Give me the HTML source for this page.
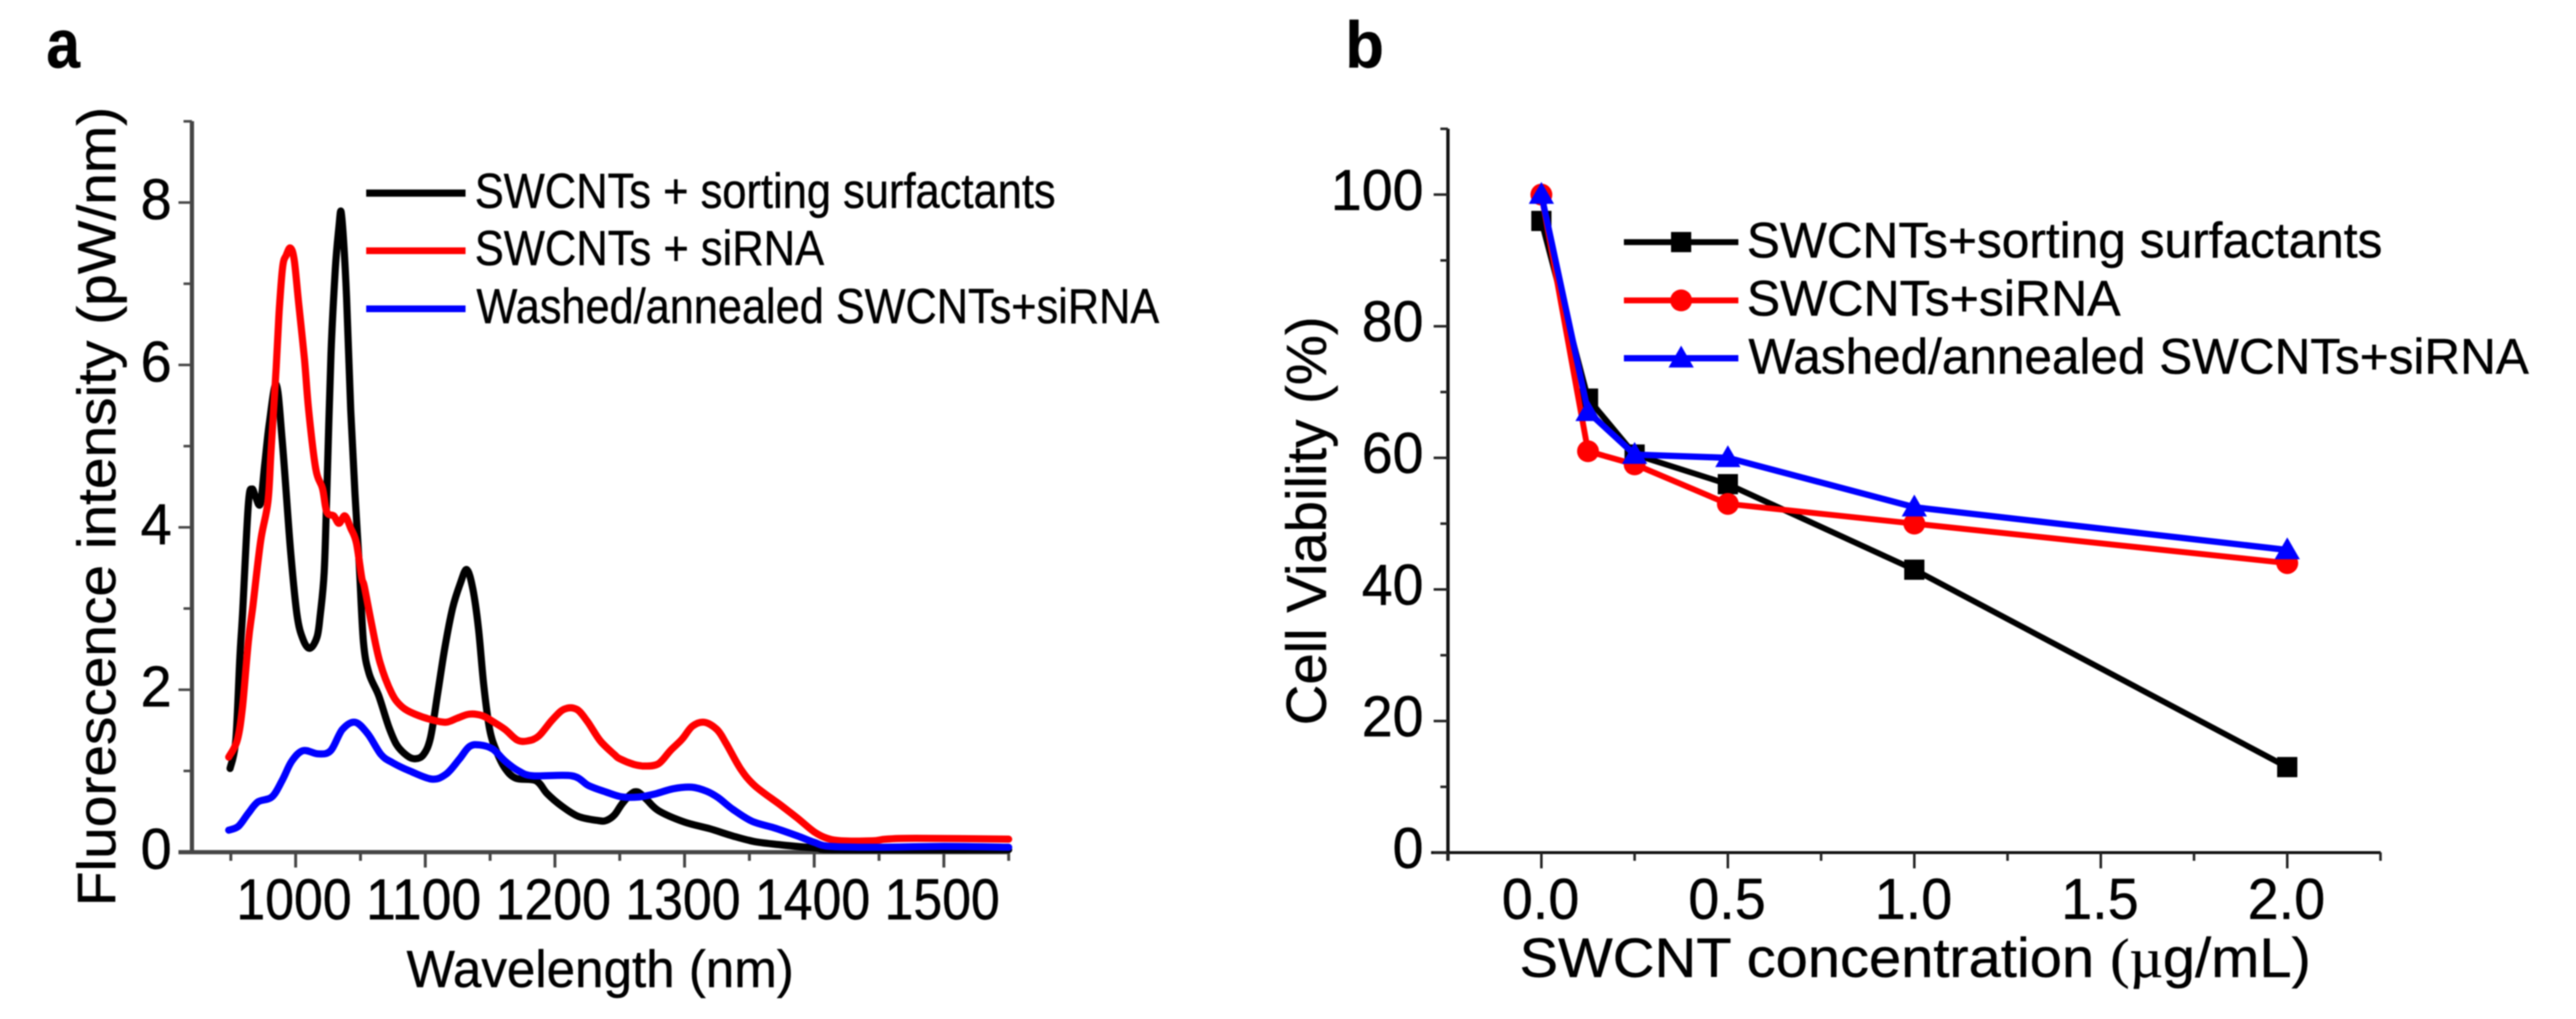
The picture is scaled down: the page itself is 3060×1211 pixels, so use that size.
<!DOCTYPE html>
<html>
<head>
<meta charset="utf-8">
<title>SWCNT fluorescence and cell viability</title>
<style>
html,body{margin:0;padding:0;background:#fff;}
svg{display:block;filter:blur(0.7px);}
text{font-family:"Liberation Sans",sans-serif;fill:#000;stroke:#000;stroke-width:0.5px;}
</style>
</head>
<body>
<svg id="fig" xmlns="http://www.w3.org/2000/svg" width="3060" height="1211" viewBox="0 0 3060 1211">
<rect width="3060" height="1211" fill="#fff"/>
<text x="55" y="80" font-size="82" font-weight="bold" textLength="40" lengthAdjust="spacingAndGlyphs">a</text>
<text x="1598" y="80" font-size="78" font-weight="bold" textLength="46" lengthAdjust="spacingAndGlyphs">b</text>

<g id="panelA"></g>
<text transform="translate(137,1077) rotate(-90)" font-size="64" textLength="950" lengthAdjust="spacingAndGlyphs">Fluorescence intensity (pW/nm)</text>
<text x="483" y="1173" font-size="62" textLength="460" lengthAdjust="spacingAndGlyphs">Wavelength (nm)</text>
<text x="564" y="247" font-size="58" textLength="690" lengthAdjust="spacingAndGlyphs">SWCNTs + sorting surfactants</text>
<text x="564" y="315" font-size="58" textLength="415" lengthAdjust="spacingAndGlyphs">SWCNTs + siRNA</text>
<text x="566" y="384" font-size="58" textLength="811" lengthAdjust="spacingAndGlyphs">Washed/annealed SWCNTs+siRNA</text>

<g id="panelB"></g>
<text transform="translate(1575,862) rotate(-90)" font-size="67" textLength="486" lengthAdjust="spacingAndGlyphs">Cell Viability (%)</text>
<text x="1805" y="1161" font-size="66" textLength="940" lengthAdjust="spacingAndGlyphs">SWCNT concentration <tspan font-family="Liberation Serif" font-weight="normal">(µ</tspan>g/mL)</text>
<text x="2075" y="306" font-size="59" textLength="755" lengthAdjust="spacingAndGlyphs">SWCNTs+sorting surfactants</text>
<text x="2075" y="375" font-size="59" textLength="444" lengthAdjust="spacingAndGlyphs">SWCNTs+siRNA</text>
<text x="2077" y="444" font-size="59" textLength="927" lengthAdjust="spacingAndGlyphs">Washed/annealed SWCNTs+siRNA</text>
</svg>
<script>
/* Panel a data */
const aTickLabelsX = [1000,1100,1200,1300,1400,1500];
const aMinorTicksX = [950,1050,1150,1250,1350,1450,1550];
const aTickLabelsY = [0,2,4,6,8];
const aMinorTicksY = [1,3,5,7,9];
const blackWave = [949.4,953.8,957,959,963.5,966.3,969,972.8,976,979.7,985,989.5,996,1001,1005.7,1011,1016.5,1019,1022,1024,1027.3,1030.6,1033.4,1035,1037,1039.3,1042.5,1045.8,1049,1052.3,1056.6,1064,1071.7,1078,1085.8,1092,1098.6,1104,1109.6,1115,1121,1127,1132,1136.7,1141,1145,1149.7,1155,1161.6,1170,1185.4,1194,1205,1218,1233,1239.5,1246,1252,1259,1264,1270.6,1280,1300,1319,1337,1354,1374,1402,1420,1550];
const blackVal = [1.03,1.38,2.41,2.93,4.28,4.47,4.38,4.29,4.75,5.28,5.76,5.1,3.73,2.93,2.62,2.51,2.65,2.93,3.45,4.41,6.14,7.18,7.7,7.89,7.52,6.83,5.45,4.41,3.55,2.59,2.2,1.93,1.55,1.32,1.19,1.15,1.2,1.41,1.96,2.51,3.0,3.31,3.48,3.24,2.76,2.07,1.51,1.24,1.03,0.91,0.88,0.72,0.57,0.44,0.39,0.39,0.46,0.6,0.72,0.74,0.65,0.51,0.37,0.29,0.2,0.13,0.09,0.05,0.03,0.03];
const redWave = [948.4,955,959,963.5,967,973,978.6,981,985,987.3,990,992.7,996,999,1002.5,1006.8,1010,1015.5,1020.7,1024,1029.5,1033.4,1038,1042.5,1046.8,1051,1053,1058.8,1065,1074,1082,1092,1105,1116,1124.7,1134,1144,1153,1161.6,1171,1179,1187.5,1198,1207,1216.7,1225,1235,1246,1250,1261,1270,1280,1289,1298,1306,1315,1325,1332,1343,1354,1374,1387,1400,1410,1421,1445,1455.6,1478,1550];
const redVal = [1.17,1.38,1.79,2.59,3.03,3.83,4.31,4.93,5.97,6.66,7.21,7.35,7.44,7.28,6.73,6.07,5.45,4.72,4.48,4.19,4.14,4.05,4.14,3.99,3.81,3.38,3.27,2.79,2.34,1.96,1.79,1.7,1.63,1.6,1.65,1.7,1.68,1.6,1.51,1.38,1.37,1.43,1.63,1.76,1.76,1.61,1.37,1.2,1.15,1.08,1.06,1.09,1.25,1.39,1.55,1.6,1.51,1.34,1.03,0.82,0.58,0.42,0.25,0.17,0.14,0.14,0.16,0.17,0.16];
const blueWave = [948.4,956,963.5,971,981.7,989.5,997,1005.7,1017.4,1027,1036,1045.8,1055.5,1066,1075,1088,1105,1116,1126,1134,1142,1152,1161.6,1172,1183,1213,1226,1239.5,1252,1265,1278,1291,1305.5,1317,1326,1337,1352,1369,1387,1400,1412.6,1450,1500,1550];
const blueVal = [0.27,0.32,0.48,0.62,0.68,0.88,1.12,1.25,1.21,1.25,1.51,1.6,1.46,1.2,1.1,1.0,0.9,0.96,1.14,1.3,1.32,1.27,1.12,1.0,0.94,0.94,0.82,0.74,0.68,0.68,0.72,0.78,0.8,0.75,0.67,0.53,0.38,0.3,0.2,0.12,0.07,0.06,0.07,0.06];

/* Panel b data */
const bConc = [0,0.125,0.25,0.5,1,2];
const bSorting = [96,69,60.5,56,43,13];
const bSirna = [100,61,59,53,50,44];
const bWashed = [100,67,60.5,60,52.5,46];
const bTickLabelsX = ["0.0","0.5","1.0","1.5","2.0"];
const bMinorTicksX = [-0.25,0.25,0.75,1.25,1.75,2.25];
const bTickLabelsY = [0,20,40,60,80,100];
const bMinorTicksY = [10,30,50,70,90,110];

const NS = "http://www.w3.org/2000/svg";
const panelA = document.getElementById("panelA");
const panelB = document.getElementById("panelB");

function xA(nm){ return 351.2 + (nm - 1000) * 1.54; }
function yA(v){ return 1012.7 - v * 96.5; }
function xB(c){ return 1831 + c * 443; }
function yB(v){ return 1013.3 - v * 7.82; }

function make(parent, tag, attrs){
  const el = document.createElementNS(NS, tag);
  for (const k in attrs) el.setAttribute(k, attrs[k]);
  parent.appendChild(el);
  return el;
}
function hv(parent, x1, y1, x2, y2, color, w, name){
  const el = make(parent, "line", {x1:x1, y1:y1, x2:x2, y2:y2, stroke:color, "stroke-width":w});
  
  
  return el;
}
function label(parent, x, y, str, size, anchor, len, name){
  const el = make(parent, "text", {x:x, y:y, "font-size":size, "text-anchor":anchor});
  if (len) { el.setAttribute("textLength", len); el.setAttribute("lengthAdjust", "spacingAndGlyphs"); }
  el.textContent = str;
  
  
  return el;
}
function curve(parent, xs, ys, fx, fy, color, w, name){
  const pts = xs.map((x, i) => fx(x).toFixed(1) + "," + fy(ys[i]).toFixed(1)).join(" ");
  const el = make(parent, "polyline", {points:pts, fill:"none", stroke:color, "stroke-width":w, "stroke-linejoin":"round", "stroke-linecap":"round"});
  
  
  return el;
}
/* Smooth spectrum trace: Catmull-Rom through the data points */
function smooth(parent, xs, ys, fx, fy, color, w, name){
  const P = xs.map((x, i) => [fx(x), fy(ys[i])]);
  let d = "M" + P[0][0].toFixed(1) + " " + P[0][1].toFixed(1);
  for (let i = 0; i < P.length - 1; i++) {
    const p0 = P[Math.max(i - 1, 0)], p1 = P[i], p2 = P[i + 1], p3 = P[Math.min(i + 2, P.length - 1)];
    const c1x = p1[0] + (p2[0] - p0[0]) / 6, c1y = p1[1] + (p2[1] - p0[1]) / 6;
    const c2x = p2[0] - (p3[0] - p1[0]) / 6, c2y = p2[1] - (p3[1] - p1[1]) / 6;
    d += " C" + c1x.toFixed(1) + " " + c1y.toFixed(1) + " " + c2x.toFixed(1) + " " + c2y.toFixed(1) + " " + p2[0].toFixed(1) + " " + p2[1].toFixed(1);
  }
  const el = make(parent, "path", {d:d, fill:"none", stroke:color, "stroke-width":w, "stroke-linejoin":"round", "stroke-linecap":"round"});
  
  
  return el;
}
function marker(parent, kind, cx, cy, color, name){
  let el;
  if (kind === "square") el = make(parent, "rect", {x:cx-12, y:cy-12, width:24, height:24, fill:color});
  else if (kind === "circle") el = make(parent, "circle", {cx:cx, cy:cy, r:13, fill:color});
  else el = make(parent, "polygon", {points:(cx-15)+","+(cy+11)+" "+(cx+15)+","+(cy+11)+" "+cx+","+(cy-15), fill:color});
  
  
  return el;
}

/* Panel a axes */
const axA = "#454545";
hv(panelA, 228, 144, 228, 1015, axA, 5, "a-y-axis-line");
hv(panelA, 212, 1012.7, 1199, 1012.7, axA, 5, "a-x-axis-line");
aTickLabelsY.forEach(v => {
  hv(panelA, 212, yA(v), 228, yA(v), axA, 3, "a-y-tick-major");
  label(panelA, 204, yA(v) + 20, String(v), 69, "end", 37, "a-y-tick-label");
});
aMinorTicksY.forEach(v => {
  hv(panelA, 218, yA(v), 228, yA(v), axA, 3, "a-y-tick-minor");
});
aTickLabelsX.forEach(v => {
  hv(panelA, xA(v), 1012, xA(v), 1031, axA, 3.5, "a-x-tick-major");
  label(panelA, xA(v) - 2, 1092.7, String(v), 69, "middle", 137, "a-x-tick-label");
});
aMinorTicksX.forEach(v => {
  hv(panelA, xA(v), 1012, xA(v), 1023, axA, 3.5, "a-x-tick-minor");
});

/* Panel a series */
smooth(panelA, blackWave, blackVal, xA, yA, "#000", 8.5, "a-series-sorting-surfactants");
smooth(panelA, redWave, redVal, xA, yA, "#f00", 8.5, "a-series-sirna");
smooth(panelA, blueWave, blueVal, xA, yA, "#00f", 8.5, "a-series-washed-annealed");

/* Panel a legend lines */
hv(panelA, 435, 229.5, 553, 229.5, "#000", 8.5, "a-legend-line-sorting");
hv(panelA, 435, 298, 553, 298, "#f00", 8, "a-legend-line-sirna");
hv(panelA, 435, 367, 553, 367, "#00f", 8, "a-legend-line-washed");

/* Panel b axes */
hv(panelB, 1720, 153, 1720, 1023, "#111", 4, "b-y-axis-line");
hv(panelB, 1700, 1013.3, 2828, 1013.3, "#111", 3.5, "b-x-axis-line");
bTickLabelsY.forEach(v => {
  hv(panelB, 1703, yB(v), 1720, yB(v), "#222", 3, "b-y-tick-major");
  label(panelB, 1691, yB(v) + 18, String(v), 69, "end", String(v).length * 36.7, "b-y-tick-label");
});
bMinorTicksY.forEach(v => {
  hv(panelB, 1711, yB(v), 1720, yB(v), "#222", 3, "b-y-tick-minor");
});
bTickLabelsX.forEach(s => {
  const v = parseFloat(s);
  hv(panelB, xB(v), 1013, xB(v), 1032, "#222", 3, "b-x-tick-major");
  label(panelB, xB(v) - 1, 1092, s, 69, "middle", 92, "b-x-tick-label");
});
bMinorTicksX.forEach(v => {
  hv(panelB, xB(v), 1013, xB(v), 1023, "#222", 3, "b-x-tick-minor");
});

/* Panel b series */
curve(panelB, bConc, bSorting, xB, yB, "#000", 7, "b-series-sorting-surfactants");
bConc.forEach((c, i) => { marker(panelB, "square", xB(c), yB(bSorting[i]), "#000", "b-point-sorting"); });
curve(panelB, bConc, bSirna, xB, yB, "#f00", 7, "b-series-sirna");
bConc.forEach((c, i) => { marker(panelB, "circle", xB(c), yB(bSirna[i]), "#f00", "b-point-sirna"); });
curve(panelB, bConc, bWashed, xB, yB, "#00f", 7.5, "b-series-washed-annealed");
bConc.forEach((c, i) => { marker(panelB, "triangle", xB(c), yB(bWashed[i]), "#00f", "b-point-washed"); });

/* Panel b legend samples */
hv(panelB, 1929, 287.7, 2065, 287.7, "#000", 7, "b-legend-line-sorting");
marker(panelB, "square", 1997, 287.7, "#000", "b-legend-marker-sorting");
hv(panelB, 1929, 357, 2065, 357, "#f00", 7, "b-legend-line-sirna");
marker(panelB, "circle", 1997, 357, "#f00", "b-legend-marker-sirna");
hv(panelB, 1929, 425.7, 2065, 425.7, "#00f", 7.5, "b-legend-line-washed");
marker(panelB, "triangle", 1997, 425.7, "#00f", "b-legend-marker-washed");
</script>
</body>
</html>
